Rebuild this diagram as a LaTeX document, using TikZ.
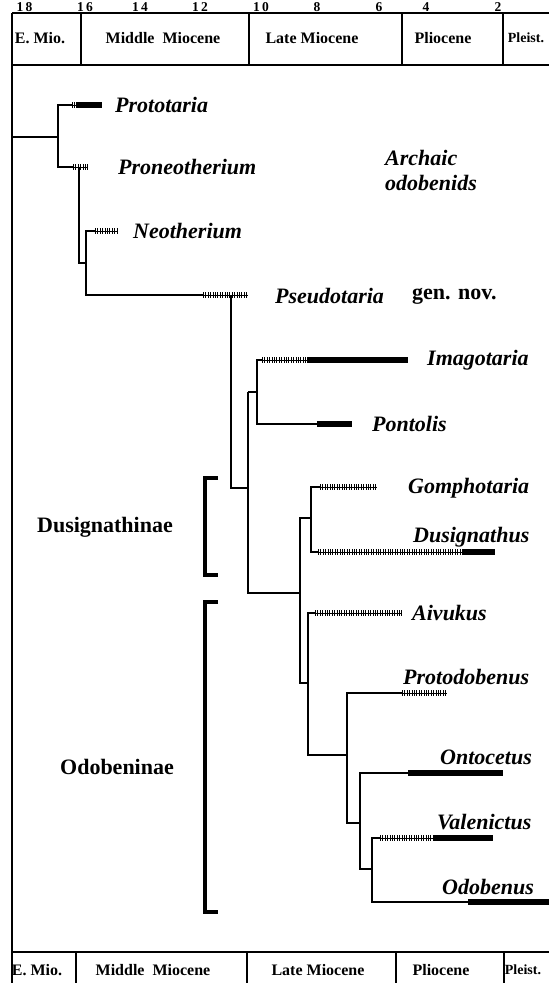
\documentclass[tikz,border=0pt]{standalone}
\usepackage{fontspec}
\setmainfont{Liberation Serif}
\begin{document}
\begin{tikzpicture}[x=1pt,y=-1pt,
  branch/.style={line width=1.3pt},
  thickbar/.style={line width=5.5pt},
  hatchline/.style={line width=1pt},
  hatchticks/.style={line width=5.5pt, dash pattern=on 0.9pt off 1.5pt},
  bracketline/.style={line width=3.6pt, line join=miter},
  frameline/.style={line width=1.4pt},
  borderline/.style={line width=2.6pt},
  taxon/.style={anchor=west, inner sep=0pt, font=\fontsize{22}{24}\selectfont\bfseries\itshape},
  plainlabel/.style={anchor=west, inner sep=0pt, font=\fontsize{22}{24}\selectfont\bfseries},
  grouplabel/.style={inner sep=0pt, font=\fontsize{22}{24}\selectfont\bfseries},
  period/.style={inner sep=0pt, font=\fontsize{16}{18}\selectfont\bfseries},
  smallperiod/.style={inner sep=0pt, font=\fontsize{14}{16}\selectfont\bfseries},
  agenum/.style={inner sep=0pt, font=\fontsize{13.5}{15}\selectfont\bfseries\addfontfeature{LetterSpace=18}}
]
\useasboundingbox (0,0) rectangle (549,983);
\fill[white] (0,0) rectangle (549,983);

% ---------- frame ----------
\coordinate (tl) at (12,13);
\coordinate (tr) at (549,13);
\coordinate (hl) at (12,65);
\coordinate (hr) at (549,65);
\coordinate (bl) at (12,952);
\coordinate (br) at (549,952);
\coordinate (bb) at (12,983);
\draw[frameline] (tl) -- (tr);
\draw[frameline] (hl) -- (hr);
\draw[frameline] (bl) -- (br);
\draw[borderline] (tl) -- (bb);
\foreach \x in {81,249,402,503}{
  \draw[frameline] (\x,13) -- (\x,65);
}
\foreach \x in {76,247,396,504}{
  \draw[frameline] (\x,952) -- (\x,983);
}

% ---------- ages ----------
\foreach \x/\t in {24.5/18,85/16,140/14,200/12,261/10,317/8,379/6,426/4,498/2}{
  \node[agenum] (age\t) at (\x,7) {\t};
}

% ---------- periods ----------
\node[period] (pEMtop) at (40,38) {E. Mio.};
\node[period] (pMMtop) at (163,38) {Middle\ \ Miocene};
\node[period] (pLMtop) at (312,38) {Late Miocene};
\node[period] (pPtop) at (443,38) {Pliocene};
\node[smallperiod] (pPltop) at (526,38) {Pleist.};
\node[period] (pEMbot) at (37,970) {E. Mio.};
\node[period] (pMMbot) at (153,970) {Middle\ \ Miocene};
\node[period] (pLMbot) at (318,970) {Late Miocene};
\node[period] (pPbot) at (441,970) {Pliocene};
\node[smallperiod] (pPlbot) at (523,970) {Pleist.};

% ---------- tree coordinates ----------
\coordinate (root) at (12,137);
\coordinate (n0) at (58,137);
\coordinate (protoS) at (72,105);
\coordinate (protoM) at (76,105);
\coordinate (protoE) at (102,105);
\coordinate (pronS) at (73,167);
\coordinate (pronE) at (88,167);
\coordinate (n1) at (79,167);
\coordinate (n2) at (86,263);
\coordinate (neoS) at (95,231);
\coordinate (neoE) at (117,231);
\coordinate (pseuS) at (203,295);
\coordinate (pseuE) at (248,295);
\coordinate (n3) at (231,295);
\coordinate (n4) at (248,488);
\coordinate (n5) at (248,392);
\coordinate (n6) at (257,392);
\coordinate (imaS) at (262,360);
\coordinate (imaM) at (307,360);
\coordinate (imaE) at (408,360);
\coordinate (ponS) at (317,424);
\coordinate (ponE) at (352,424);
\coordinate (n7) at (300,593);
\coordinate (n8) at (311,518);
\coordinate (n9) at (308,683);
\coordinate (gomS) at (320,487);
\coordinate (gomE) at (377,487);
\coordinate (dusS) at (318,552);
\coordinate (dusM) at (462,552);
\coordinate (dusE) at (495,552);
\coordinate (n10) at (347,755);
\coordinate (aivS) at (315,613);
\coordinate (aivE) at (402,613);
\coordinate (n11) at (360,823);
\coordinate (pdbS) at (402,693);
\coordinate (pdbE) at (447,693);
\coordinate (n12) at (372,869);
\coordinate (ontS) at (408,773);
\coordinate (ontE) at (503,773);
\coordinate (valS) at (380,838);
\coordinate (valM) at (433,838);
\coordinate (valE) at (493,838);
\coordinate (odoS) at (468,902);
\coordinate (odoE) at (549,902);

% ---------- branches ----------
\draw[branch] (root) -- (n0);
\draw[branch] (protoS) -| (n0) |- (pronS);
\draw[branch] (n1) |- (n2);
\draw[branch] (neoS) -| (n2) |- (pseuS);
\draw[branch] (n3) |- (n4);
\draw[branch] (n5) -- (n6);
\draw[branch] (n5) |- (n7);
\draw[branch] (imaS) -| (n6) |- (ponS);
\draw[branch] (n8) -| (n7) |- (n9);
\draw[branch] (gomS) -| (n8) |- (dusS);
\draw[branch] (aivS) -| (n9) |- (n10);
\draw[branch] (pdbS) -| (n10) |- (n11);
\draw[branch] (ontS) -| (n11) |- (n12);
\draw[branch] (valS) -| (n12) |- (odoS);

% ---------- range bars ----------
\newcommand\hatchseg[2]{\draw[hatchline] (#1) -- (#2); \draw[hatchticks] (#1) -- (#2);}
\hatchseg{protoS}{protoM}
\draw[thickbar] (protoM) -- (protoE);
\hatchseg{pronS}{pronE}
\hatchseg{neoS}{neoE}
\hatchseg{pseuS}{pseuE}
\hatchseg{imaS}{imaM}
\draw[thickbar] (imaM) -- (imaE);
\draw[thickbar] (ponS) -- (ponE);
\hatchseg{gomS}{gomE}
\hatchseg{dusS}{dusM}
\draw[thickbar] (dusM) -- (dusE);
\hatchseg{aivS}{aivE}
\hatchseg{pdbS}{pdbE}
\draw[thickbar] (ontS) -- (ontE);
\hatchseg{valS}{valM}
\draw[thickbar] (valM) -- (valE);
\draw[thickbar] (odoS) -- (odoE);

% ---------- taxon labels ----------
\node[taxon] (lProto) at (115,105) {Prototaria};
\node[taxon] (lPron) at (118,167) {Proneotherium};
\node[taxon] (lNeo) at (133,231) {Neotherium};
\node[taxon] (lPseu) at (275,296) {Pseudotaria};
\node[plainlabel] (lGen) at (412,296) {gen. nov.};
\node[taxon] (lIma) at (427,360) {Imagotaria};
\node[taxon] (lPon) at (372,424) {Pontolis};
\node[taxon] (lGom) at (408,488) {Gomphotaria};
\node[taxon] (lDus) at (413,537) {Dusignathus};
\node[taxon] (lAiv) at (412,613) {Aivukus};
\node[taxon] (lPdb) at (403,677) {Protodobenus};
\node[taxon] (lOnt) at (440,757) {Ontocetus};
\node[taxon] (lVal) at (437,822) {Valenictus};
\node[taxon] (lOdo) at (442,887) {Odobenus};
\node[taxon] (lArc) at (385,158) {Archaic};
\node[taxon] (lOdb) at (385,183) {odobenids};

% ---------- subfamily brackets ----------
\coordinate (dbT) at (218,478);
\coordinate (dbTv) at (205,478);
\coordinate (dbBv) at (205,575);
\coordinate (dbB) at (218,575);
\draw[bracketline] (dbT) -- (dbTv) -- (dbBv) -- (dbB);
\coordinate (obT) at (218,602);
\coordinate (obTv) at (205,602);
\coordinate (obBv) at (205,912);
\coordinate (obB) at (218,912);
\draw[bracketline] (obT) -- (obTv) -- (obBv) -- (obB);
\node[grouplabel] (lDusg) at (105,527) {Dusignathinae};
\node[grouplabel] (lOdbn) at (117,767) {Odobeninae};
\end{tikzpicture}
\end{document}
